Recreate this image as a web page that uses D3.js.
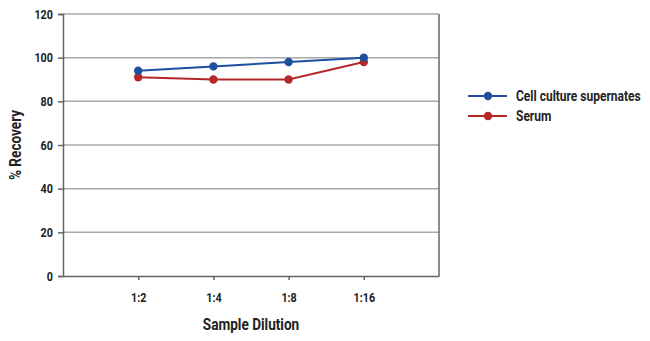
<!DOCTYPE html>
<html><head><meta charset="utf-8">
<script src="https://cdn.jsdelivr.net/npm/d3@7"></script>
<style>
html,body{margin:0;padding:0;background:#fff;}
text{font-family:Roboto,"Liberation Sans",sans-serif;font-weight:bold;fill:#222;}
</style></head>
<body><svg id="c" width="650" height="341"></svg>
<script>
const categories = ["1:2","1:4","1:8","1:16"];
const cellCulture = [94, 96, 98, 100];
const serum = [91, 90, 90, 98];
const yTicks = [0,20,40,60,80,100,120];
const seriesNames = ["Cell culture supernates","Serum"];
const seriesColors = ["#1f4f9e","#b5282a"];

const svg = d3.select("#c");
const L=63, R=439, T=14, B=276;
const SX = 0.8; // condensed look
const x = d3.scalePoint().domain(categories).range([L,R]).padding(1);
const y = d3.scaleLinear().domain([0,120]).range([B,T]);

// gridlines
svg.append("g").selectAll("line").data(yTicks.filter(d=>d>0)).join("line")
  .attr("x1",L).attr("x2",R).attr("y1",d=>y(d)).attr("y2",d=>y(d))
  .attr("stroke","#a8a8a8").attr("stroke-width",1.5);
// right border
svg.append("line").attr("x1",R).attr("x2",R).attr("y1",T).attr("y2",B)
  .attr("stroke","#666").attr("stroke-width",1.5);

// y axis
const ya = svg.append("g").attr("transform",`translate(${L},0)`)
  .call(d3.axisLeft(y).tickValues(yTicks).tickSize(5).tickPadding(5));
ya.select(".domain").attr("stroke","#666").attr("stroke-width",1.5);
ya.selectAll(".tick line").attr("stroke","#666").attr("stroke-width",1.5);
ya.selectAll("text").style("font-size","13.5px").attr("fill","#222")
  .attr("x",-10/SX).attr("transform",`scale(${SX},1)`);

// x axis
const xa = svg.append("g").attr("transform",`translate(0,${B})`)
  .call(d3.axisBottom(x).tickSize(4).tickPadding(12).tickSizeOuter(0));
xa.select(".domain").attr("stroke","#666").attr("stroke-width",1.5);
xa.selectAll(".tick line").attr("stroke","#666").attr("stroke-width",1.5);
xa.selectAll("text").style("font-size","13.5px").attr("fill","#222")
  .attr("transform",`scale(${SX},1)`);

// series
const data = [cellCulture, serum];
const line = d3.line().x((d,i)=>x(categories[i])).y(d=>y(d));
data.forEach((s,k)=>{
  svg.append("path").datum(s).attr("d",line).attr("fill","none")
    .attr("stroke",seriesColors[k]).attr("stroke-width",2);
});
data.slice().reverse().forEach((s,kk)=>{
  const k = data.length-1-kk;
  svg.append("g").selectAll("circle").data(s).join("circle")
    .attr("cx",(d,i)=>x(categories[i])).attr("cy",d=>y(d)).attr("r",4.2)
    .attr("fill",seriesColors[k]);
});

// axis titles
svg.append("text").attr("transform",`translate(${(L+R)/2},330) scale(${SX},1)`).attr("text-anchor","middle")
  .style("font-size","17px").text("Sample Dilution");
svg.append("text").attr("transform",`translate(21,${(T+B)/2}) rotate(-90) scale(${SX},1)`)
  .attr("text-anchor","middle").style("font-size","17px").text("% Recovery");

// legend
const lg = svg.append("g");
seriesNames.forEach((n,k)=>{
  const yy = 96 + k*20;
  lg.append("line").attr("x1",468).attr("x2",507).attr("y1",yy).attr("y2",yy)
    .attr("stroke",seriesColors[k]).attr("stroke-width",2);
  lg.append("circle").attr("cx",488).attr("cy",yy).attr("r",4.2).attr("fill",seriesColors[k]);
  lg.append("text").attr("transform",`translate(516,${yy+5}) scale(${SX},1)`)
    .style("font-size","15px").text(n);
});
</script></body></html>
